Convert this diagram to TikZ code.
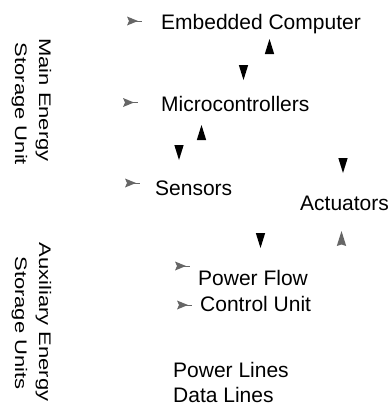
\documentclass[tikz,border=0pt]{standalone}
\usepackage{fontspec}
\setmainfont{Liberation Sans}
\usepackage{graphicx}
\tikzset{
  lbl/.style={inner sep=0pt, anchor=base west, font=\fontsize{21}{25}\selectfont},
  vlbl/.style={inner sep=0pt, anchor=base, rotate=-90, font=\fontsize{22}{26}\selectfont},
  blk/.style={fill=black, draw=none},
  gry/.style={fill=black!60, draw=none},
  pics/tridown/.style={code={\fill[blk] (-4.7,0) -- (4.7,0) -- (0,15) -- cycle;}},
  pics/triup/.style={code={\fill[blk] (-4.7,15) -- (4.7,15) -- (0,0) -- cycle;}},
  pics/grayup/.style={code={\fill[gry] (-4.7,15) -- (0,0) -- (4.7,15) -- (0,13.5) -- cycle;}},
  pics/grayright/.style={code={\fill[gry] (0,-4.5) -- (11,0) -- (0,4.5) -- (2,0) -- cycle;
     \draw[black!60, line width=0.9pt] (9,0) -- (15,0);}},
}
\begin{document}
\begin{tikzpicture}[x=1pt,y=-1pt]
\useasboundingbox[fill=white] (0,0) rectangle (389,407);
% labels
\node[lbl] (emb) at (161,29.5) {Embedded Computer};
\node[lbl] (mic) at (161,111) {Microcontrollers};
\node[lbl] (sen) at (155,195) {Sensors};
\node[lbl] (act) at (300,210) {Actuators};
\node[lbl] (pf) at (198,285) {Power Flow};
\node[lbl] (cu) at (200,311) {Control Unit};
\node[lbl] (pl) at (173,377) {Power Lines};
\node[lbl] (dl) at (173,402) {Data Lines};
% vertical labels
\node[vlbl] (mes1) at (39,100) {\scalebox{1}[0.76]{Main Energy}};
\node[vlbl] (mes2) at (15,104) {\scalebox{1}[0.76]{Storage Unit}};
\node[vlbl] (aes1) at (39,322) {\scalebox{1}[0.76]{Auxiliary Energy}};
\node[vlbl] (aes2) at (15,323) {\scalebox{1}[0.76]{Storage Units}};
% gray arrowheads
\pic at (127,21) {grayright};
\pic at (123,102.5) {grayright};
\pic at (125,183) {grayright};
\pic at (175,266) {grayright};
\pic at (177,305) {grayright};
% black triangles
\pic at (269.5,39) {triup};
\pic at (243.5,65) {tridown};
\pic at (201.5,125) {triup};
\pic at (179,145) {tridown};
\pic at (343,158) {tridown};
\pic at (260.5,233) {tridown};
\pic at (341.5,231) {grayup};
\end{tikzpicture}
\end{document}
